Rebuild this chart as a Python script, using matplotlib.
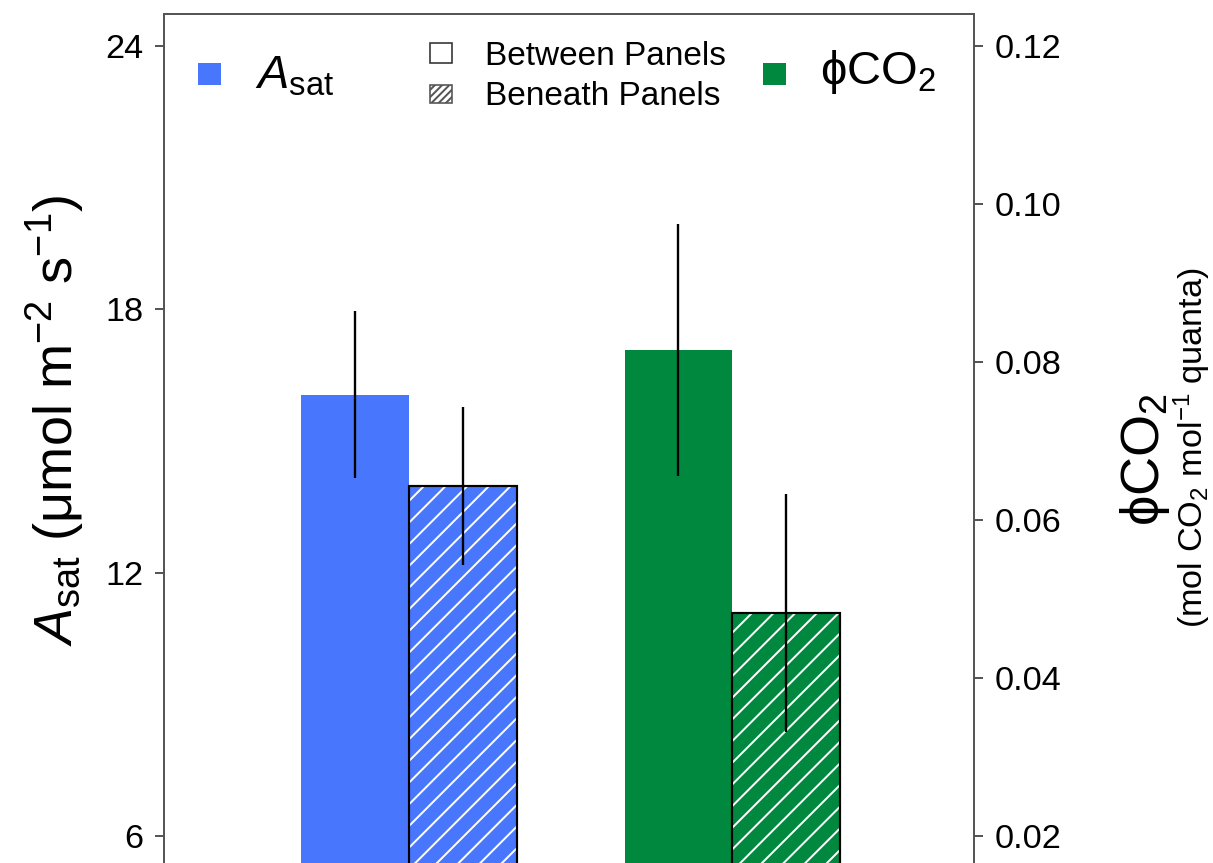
import numpy as np
import matplotlib.pyplot as plt
from matplotlib.patches import Rectangle

plt.rcParams['font.family'] = ['Liberation Sans', 'DejaVu Sans']
plt.rcParams['mathtext.fontset'] = 'custom'
plt.rcParams['mathtext.rm'] = 'Liberation Sans'
plt.rcParams['mathtext.it'] = 'Liberation Sans:italic'
plt.rcParams['hatch.linewidth'] = 1.1

# données
positions = ['Between Panels', 'Beneath Panels']
asat = [16.05, 13.98]       # umol m-2 s-1
asat_err = [1.9, 1.8]
phi = [0.0815, 0.0482]       # mol CO2 mol-1 quanta
phi_err = [0.016, 0.0151]

bleu = '#4877FD'
vert = '#00883F'

fig = plt.figure(figsize=(1213/130, 863/130), dpi=130)
ax = fig.add_axes([0.1352, -0.2735, 0.6678, 1.2573])
ax2 = ax.twinx()

x_a = np.array([0, 1])
x_p = np.array([3, 4])
hachures = [None, '//']

for i in range(2):
    ax.bar(x_a[i], asat[i], width=1, color=bleu, edgecolor='white',
           linewidth=0, hatch=hachures[i])
    ax2.bar(x_p[i], phi[i], width=1, color=vert, edgecolor='white',
            linewidth=0, hatch=hachures[i])
    if hachures[i]:
        ax.bar(x_a[i], asat[i], width=1, fill=False, edgecolor='black', linewidth=1.2)
        ax2.bar(x_p[i], phi[i], width=1, fill=False, edgecolor='black', linewidth=1.2)

ax.errorbar(x_a, asat, yerr=asat_err, fmt='none', ecolor='black', elinewidth=1.3, capsize=0)
ax2.errorbar(x_p, phi, yerr=phi_err, fmt='none', ecolor='black', elinewidth=1.3, capsize=0)

ax.set_xlim(-1.77, 5.74)
ylo, yhi = 0, 24.73
ax.set_ylim(ylo, yhi)
ax2.set_ylim((ylo - 2.4) / 180, (yhi - 2.4) / 180)
ax.set_yticks([6, 12, 18, 24])
ax2.set_yticks([0.02, 0.04, 0.06, 0.08, 0.10, 0.12])
ax2.set_yticklabels(['0.02', '0.04', '0.06', '0.08', '0.10', '0.12'])
ax.set_xticks([])

for a in (ax, ax2):
    a.tick_params(axis='y', labelsize=19, length=5, width=1, color='#444', pad=6.5)
    for s in a.spines.values():
        s.set_color('#555')
        s.set_linewidth(1)

fig.text(0.045, 0.513, r'$\mathit{A}_{\mathrm{sat}}$ (μmol m$^{-2}$ s$^{-1}$)',
         rotation=90, ha='center', va='center', fontsize=30)
fig.text(0.944, 0.468, 'ϕCO$_2$', rotation=90, ha='center', va='center', fontsize=30)
fig.text(0.983, 0.481, r'(mol CO$_2$ mol$^{-1}$ quanta)', rotation=90,
         ha='center', va='center', fontsize=19)


# légende faite à la main
def carre(x, y, w, h, **kw):
    fig.add_artist(Rectangle((x / 1213, 1 - y / 863), w / 1213, h / 863,
                             transform=fig.transFigure, **kw))


carre(198, 85, 23, 22, facecolor=bleu, edgecolor='none')
fig.text(255 / 1213, 1 - 88 / 863, r'$\mathit{A}_{\mathrm{sat}}$', fontsize=26, va='baseline')

carre(430, 63, 22, 20, facecolor='white', edgecolor='#333', linewidth=0.9)
carre(430, 103, 22, 18, facecolor='white', edgecolor='#555', linewidth=0.9, hatch='//////')
fig.text(485 / 1213, 1 - 65 / 863, positions[0], fontsize=18.5, va='baseline')
fig.text(485 / 1213, 1 - 105 / 863, positions[1], fontsize=18.5, va='baseline')

carre(763, 85, 23, 22, facecolor=vert, edgecolor='none')
fig.text(820 / 1213, 1 - 84 / 863, 'ϕCO$_2$', fontsize=26, va='baseline')

plt.savefig('out.png', dpi=130)
